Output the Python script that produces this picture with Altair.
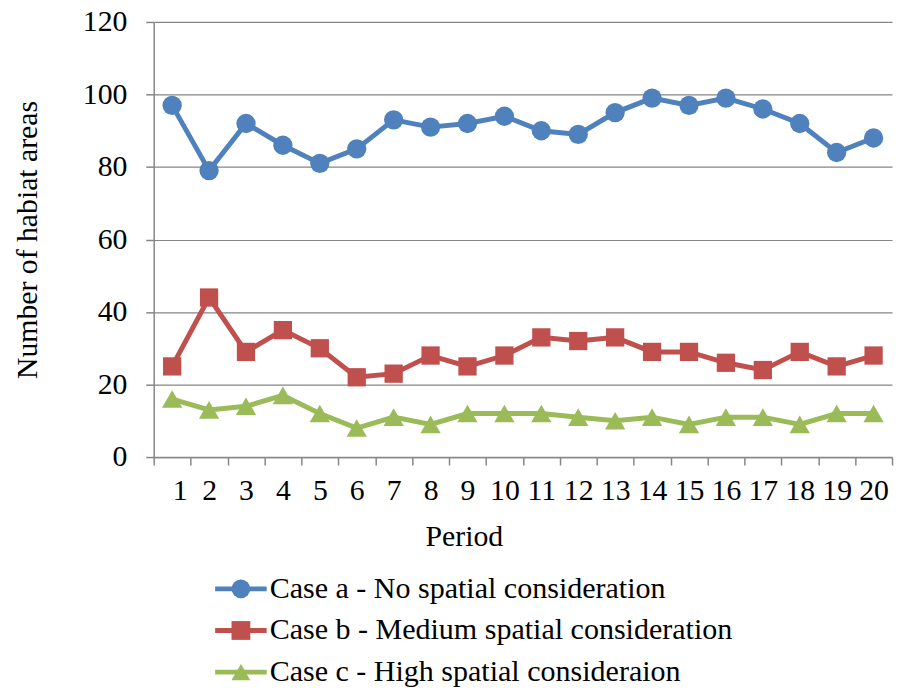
import altair as alt
import pandas as pd

# ---- data ----
periods = list(range(1, 21))
case_a = [97, 79, 92, 86, 81, 85, 93, 91, 92, 94, 90, 89, 95, 99, 97, 99, 96, 92, 84, 88]
case_b = [25, 44, 29, 35, 30, 22, 23, 28, 25, 28, 33, 32, 33, 29, 29, 26, 24, 29, 25, 28]
case_c = [16, 13, 14, 17, 12, 8, 11, 9, 12, 12, 12, 11, 10, 11, 9, 11, 11, 9, 12, 12]
series_names = [
    "Case a - No spatial consideration",
    "Case b - Medium spatial consideration",
    "Case c - High spatial consideraion",
]
colors = ["#4F81BD", "#C0504D", "#9BBB59"]
marker_shapes = ["circle", "square", "triangle-up"]
y_ticks = [0, 20, 40, 60, 80, 100, 120]
x_boundaries = [p - 0.5 for p in periods] + [20.5]

rows = []
for name, vals in zip(series_names, [case_a, case_b, case_c]):
    for p, v in zip(periods, vals):
        rows.append({"period": p, "value": v, "series": name})
df = pd.DataFrame(rows)
legend_df = pd.DataFrame({"series": series_names, "order": [0, 1, 2]})

# ---- layout / style ----
W, H = 745, 439
step = W / 20
FONT = "Liberation Serif"
GRAY = "#868686"
FS = 30

stroke_scale = alt.Scale(domain=series_names, range=colors)
shape_scale = alt.Scale(domain=series_names, range=marker_shapes)

x_enc = alt.X(
    "period:Q",
    scale=alt.Scale(domain=[0.5, 20.5], nice=False, zero=False),
    axis=alt.Axis(
        values=x_boundaries,
        labelExpr="datum.value > 20 ? '' : format(datum.value + 0.5, 'd')",
        labelOffset=step / 2,
        tickSize=8,
        labelPadding=11,
        grid=False,
        title="Period",
        titleX=313,
        titleY=89,
        titleBaseline="alphabetic",
    ),
)
y_enc = alt.Y(
    "value:Q",
    scale=alt.Scale(domain=[0, 120], nice=False),
    axis=alt.Axis(
        values=y_ticks,
        tickSize=8,
        labelPadding=19,
        grid=True,
        title="Number of habiat areas",
        titleX=-118,
        titleY=H / 2,
        titleBaseline="alphabetic",
    ),
)

lines = alt.Chart(df).mark_line(strokeWidth=5).encode(
    x=x_enc,
    y=y_enc,
    detail="series:N",
    stroke=alt.Stroke("series:N", scale=stroke_scale, legend=None),
)

sizes = [380, 340, 420]
point_layers = []
for name, shp, sz in zip(series_names, marker_shapes, sizes):
    point_layers.append(
        alt.Chart(df)
        .transform_filter(alt.datum.series == name)
        .mark_point(shape=shp, filled=True, size=sz, opacity=1, strokeWidth=0)
        .encode(
            x=x_enc,
            y=y_enc,
            fill=alt.Fill("series:N", scale=stroke_scale, legend=None),
        )
    )

main = alt.layer(lines, *point_layers)

# ---- legend below the plot (rows placed through an ordinal-position scale) ----
leg_y = alt.Y(
    "order:Q",
    scale=alt.Scale(domain=[0, 2], range=[572, 656], nice=False, zero=False),
    axis=None,
)
leg_line = alt.Chart(legend_df).mark_rule(strokeWidth=5, strokeCap="butt").encode(
    x=alt.value(62),
    x2=alt.value(114),
    y=leg_y,
    stroke=alt.Stroke("series:N", scale=stroke_scale, legend=None),
)
leg_pts = alt.Chart(legend_df).mark_point(filled=True, size=360, opacity=1, strokeWidth=0).encode(
    x=alt.value(88),
    y=leg_y,
    fill=alt.Fill("series:N", scale=stroke_scale, legend=None),
    shape=alt.Shape("series:N", scale=shape_scale, legend=None),
)
leg_text = alt.Chart(legend_df).mark_text(
    align="left", baseline="middle", dx=3, font=FONT, fontSize=30.3, color="black"
).encode(
    x=alt.value(114),
    y=leg_y,
    text="series:N",
)
legend_layer = alt.layer(leg_line, leg_pts, leg_text)

chart = (
    alt.layer(main, legend_layer)
    .resolve_scale(y="independent")
    .properties(
        width=W,
        height=H,
        autosize=alt.AutoSizeParams(type="none"),
        padding={"left": 147, "top": 11, "right": 4, "bottom": 236},
    )
    .configure_view(stroke=None)
    .configure_axis(
        labelFont=FONT,
        labelFontSize=FS,
        labelColor="black",
        titleFont=FONT,
        titleFontSize=FS,
        titleColor="black",
        titleFontWeight="normal",
        domainColor=GRAY,
        domainWidth=1.5,
        tickColor=GRAY,
        tickWidth=1.5,
        gridColor=GRAY,
        gridWidth=1.2,
        labelOverlap=False,
    )
)

chart.save("out.html", embed_options={"renderer": "svg", "actions": False})
